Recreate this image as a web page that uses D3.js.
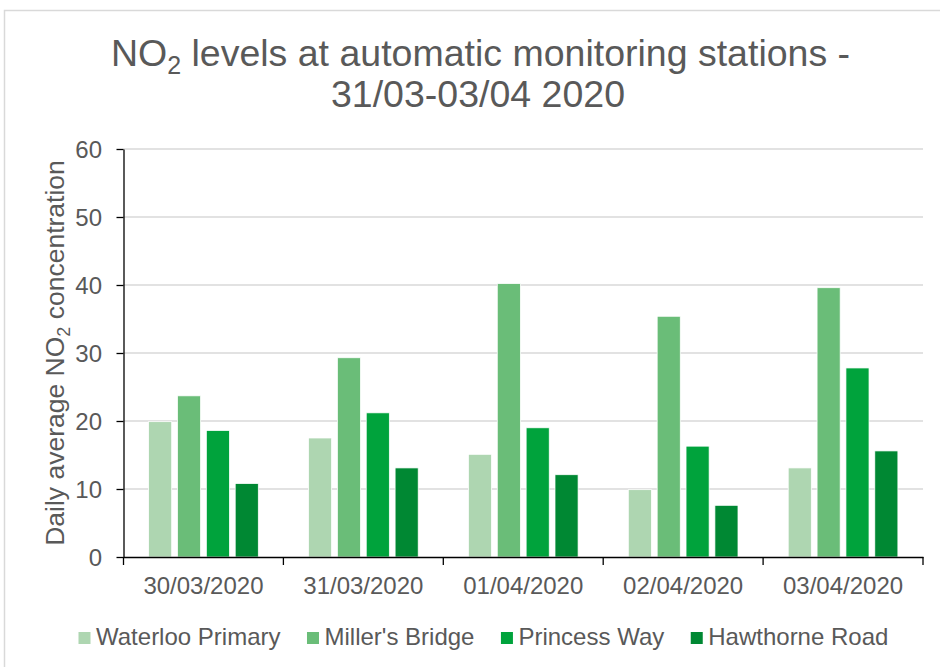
<!DOCTYPE html>
<html>
<head>
<meta charset="utf-8">
<script src="https://cdn.jsdelivr.net/npm/d3@7"></script>
<style>
  html, body { margin: 0; padding: 0; background: #fff; }
  svg { display: block; }
  text { font-family: "Liberation Sans", Arial, sans-serif; fill: #595959; }
</style>
</head>
<body>
<svg id="chart" width="940" height="667"></svg>
<script>
const categories = ["30/03/2020", "31/03/2020", "01/04/2020", "02/04/2020", "03/04/2020"];
const seriesNames = ["Waterloo Primary", "Miller's Bridge", "Princess Way", "Hawthorne Road"];
const waterlooPrimary = [19.9, 17.5, 15.1, 9.9, 13.1];
const millersBridge   = [23.7, 29.3, 40.2, 35.4, 39.6];
const princessWay     = [18.6, 21.2, 19.0, 16.3, 27.8];
const hawthorneRoad   = [10.8, 13.1, 12.1, 7.6, 15.6];
const yTicks = [0, 10, 20, 30, 40, 50, 60];
const seriesColors = ["#aed6b1", "#6abd78", "#00a33c", "#008833"];

const seriesValues = [waterlooPrimary, millersBridge, princessWay, hawthorneRoad];

const svg = d3.select("#chart");

// outer chart border
svg.append("rect")
  .attr("x", 4.5).attr("y", 10.5)
  .attr("width", 960).attr("height", 700)
  .attr("fill", "none").attr("stroke", "#d9d9d9").attr("stroke-width", 1.5);

const plotLeft = 123.5, plotRight = 923, plotTop = 149, plotBottom = 557;

const x0 = d3.scaleBand().domain(categories).range([plotLeft, plotRight]);
const x1 = d3.scaleBand().domain(seriesNames).range([0, x0.bandwidth()])
  .paddingInner(0.2).paddingOuter(0.87);
const y = d3.scaleLinear().domain([0, 60]).range([plotBottom, plotTop]);
const color = d3.scaleOrdinal().domain(seriesNames).range(seriesColors);

// gridlines
svg.append("g").selectAll("line")
  .data(yTicks.filter(d => d > 0))
  .join("line")
  .attr("x1", plotLeft).attr("x2", plotRight)
  .attr("y1", d => y(d)).attr("y2", d => y(d))
  .attr("stroke", "#d9d9d9").attr("stroke-width", 1.3);

// bars
const rows = categories.map((c, i) => ({
  cat: c,
  vals: seriesNames.map((s, j) => ({ series: s, value: seriesValues[j][i] }))
}));

svg.append("g").selectAll("g")
  .data(rows)
  .join("g")
  .attr("transform", d => `translate(${x0(d.cat)},0)`)
  .selectAll("rect")
  .data(d => d.vals)
  .join("rect")
  .attr("x", d => x1(d.series))
  .attr("width", x1.bandwidth())
  .attr("y", d => y(d.value))
  .attr("height", d => y(0) - y(d.value))
  .attr("fill", d => color(d.series))
  .attr("stroke", "#ffffff").attr("stroke-width", 0.75);

// y axis
const yAxis = svg.append("g")
  .attr("transform", `translate(${plotLeft},0)`)
  .call(d3.axisLeft(y).tickValues(yTicks).tickSize(7).tickSizeOuter(0).tickPadding(14.5));
yAxis.select(".domain").attr("stroke", "#000").attr("stroke-width", 1.3);
yAxis.selectAll(".tick line").attr("stroke", "#000").attr("stroke-width", 1.3);
yAxis.selectAll(".tick text")
  .style("font-family", '"Liberation Sans", Arial, sans-serif')
  .style("font-size", "24px").attr("fill", "#595959").attr("dy", "0.35em");

// x axis
const xAxis = svg.append("g")
  .attr("transform", `translate(0,${plotBottom})`)
  .call(d3.axisBottom(x0).tickSize(0).tickSizeOuter(0).tickPadding(20));
xAxis.select(".domain").attr("stroke", "#000").attr("stroke-width", 1.3);
xAxis.selectAll(".tick text")
  .style("font-family", '"Liberation Sans", Arial, sans-serif')
  .style("font-size", "24px").attr("fill", "#595959");
const boundaries = categories.map(c => x0(c)).concat([x0.range()[1]]);
xAxis.append("g").selectAll("line")
  .data(boundaries)
  .join("line")
  .attr("x1", d => d).attr("x2", d => d)
  .attr("y1", 0).attr("y2", 8)
  .attr("stroke", "#000").attr("stroke-width", 1.3);

// title
const title = svg.append("text")
  .attr("text-anchor", "middle")
  .attr("x", 480.5).attr("y", 65.5)
  .style("font-size", "37.5px");
title.append("tspan").text("NO");
title.append("tspan").text("2").style("font-size", "25px").attr("dy", 8);
title.append("tspan").text(" levels at automatic monitoring stations -").attr("dy", -8);
svg.append("text")
  .attr("text-anchor", "middle")
  .attr("x", 478).attr("y", 107)
  .style("font-size", "37.5px")
  .text("31/03-03/04 2020");

// y axis title
const yTitle = svg.append("text")
  .attr("text-anchor", "middle")
  .attr("transform", `translate(63.5,${(plotTop + plotBottom) / 2}) rotate(-90)`)
  .style("font-size", "26.5px");
yTitle.append("tspan").text("Daily average NO");
yTitle.append("tspan").text("2").style("font-size", "18px").attr("dy", 6);
yTitle.append("tspan").text(" concentration").attr("dy", -6);

// legend
const legend = svg.append("g");
let lx = 78.5;
seriesNames.forEach((s, i) => {
  legend.append("rect")
    .attr("x", lx).attr("y", 632)
    .attr("width", 12).attr("height", 12)
    .attr("fill", color(s));
  const t = legend.append("text")
    .attr("x", lx + 17.5).attr("y", 645)
    .style("font-size", "24px")
    .text(s);
  lx += 17.5 + t.node().getComputedTextLength() + 26.5;
});
</script>
</body>
</html>
